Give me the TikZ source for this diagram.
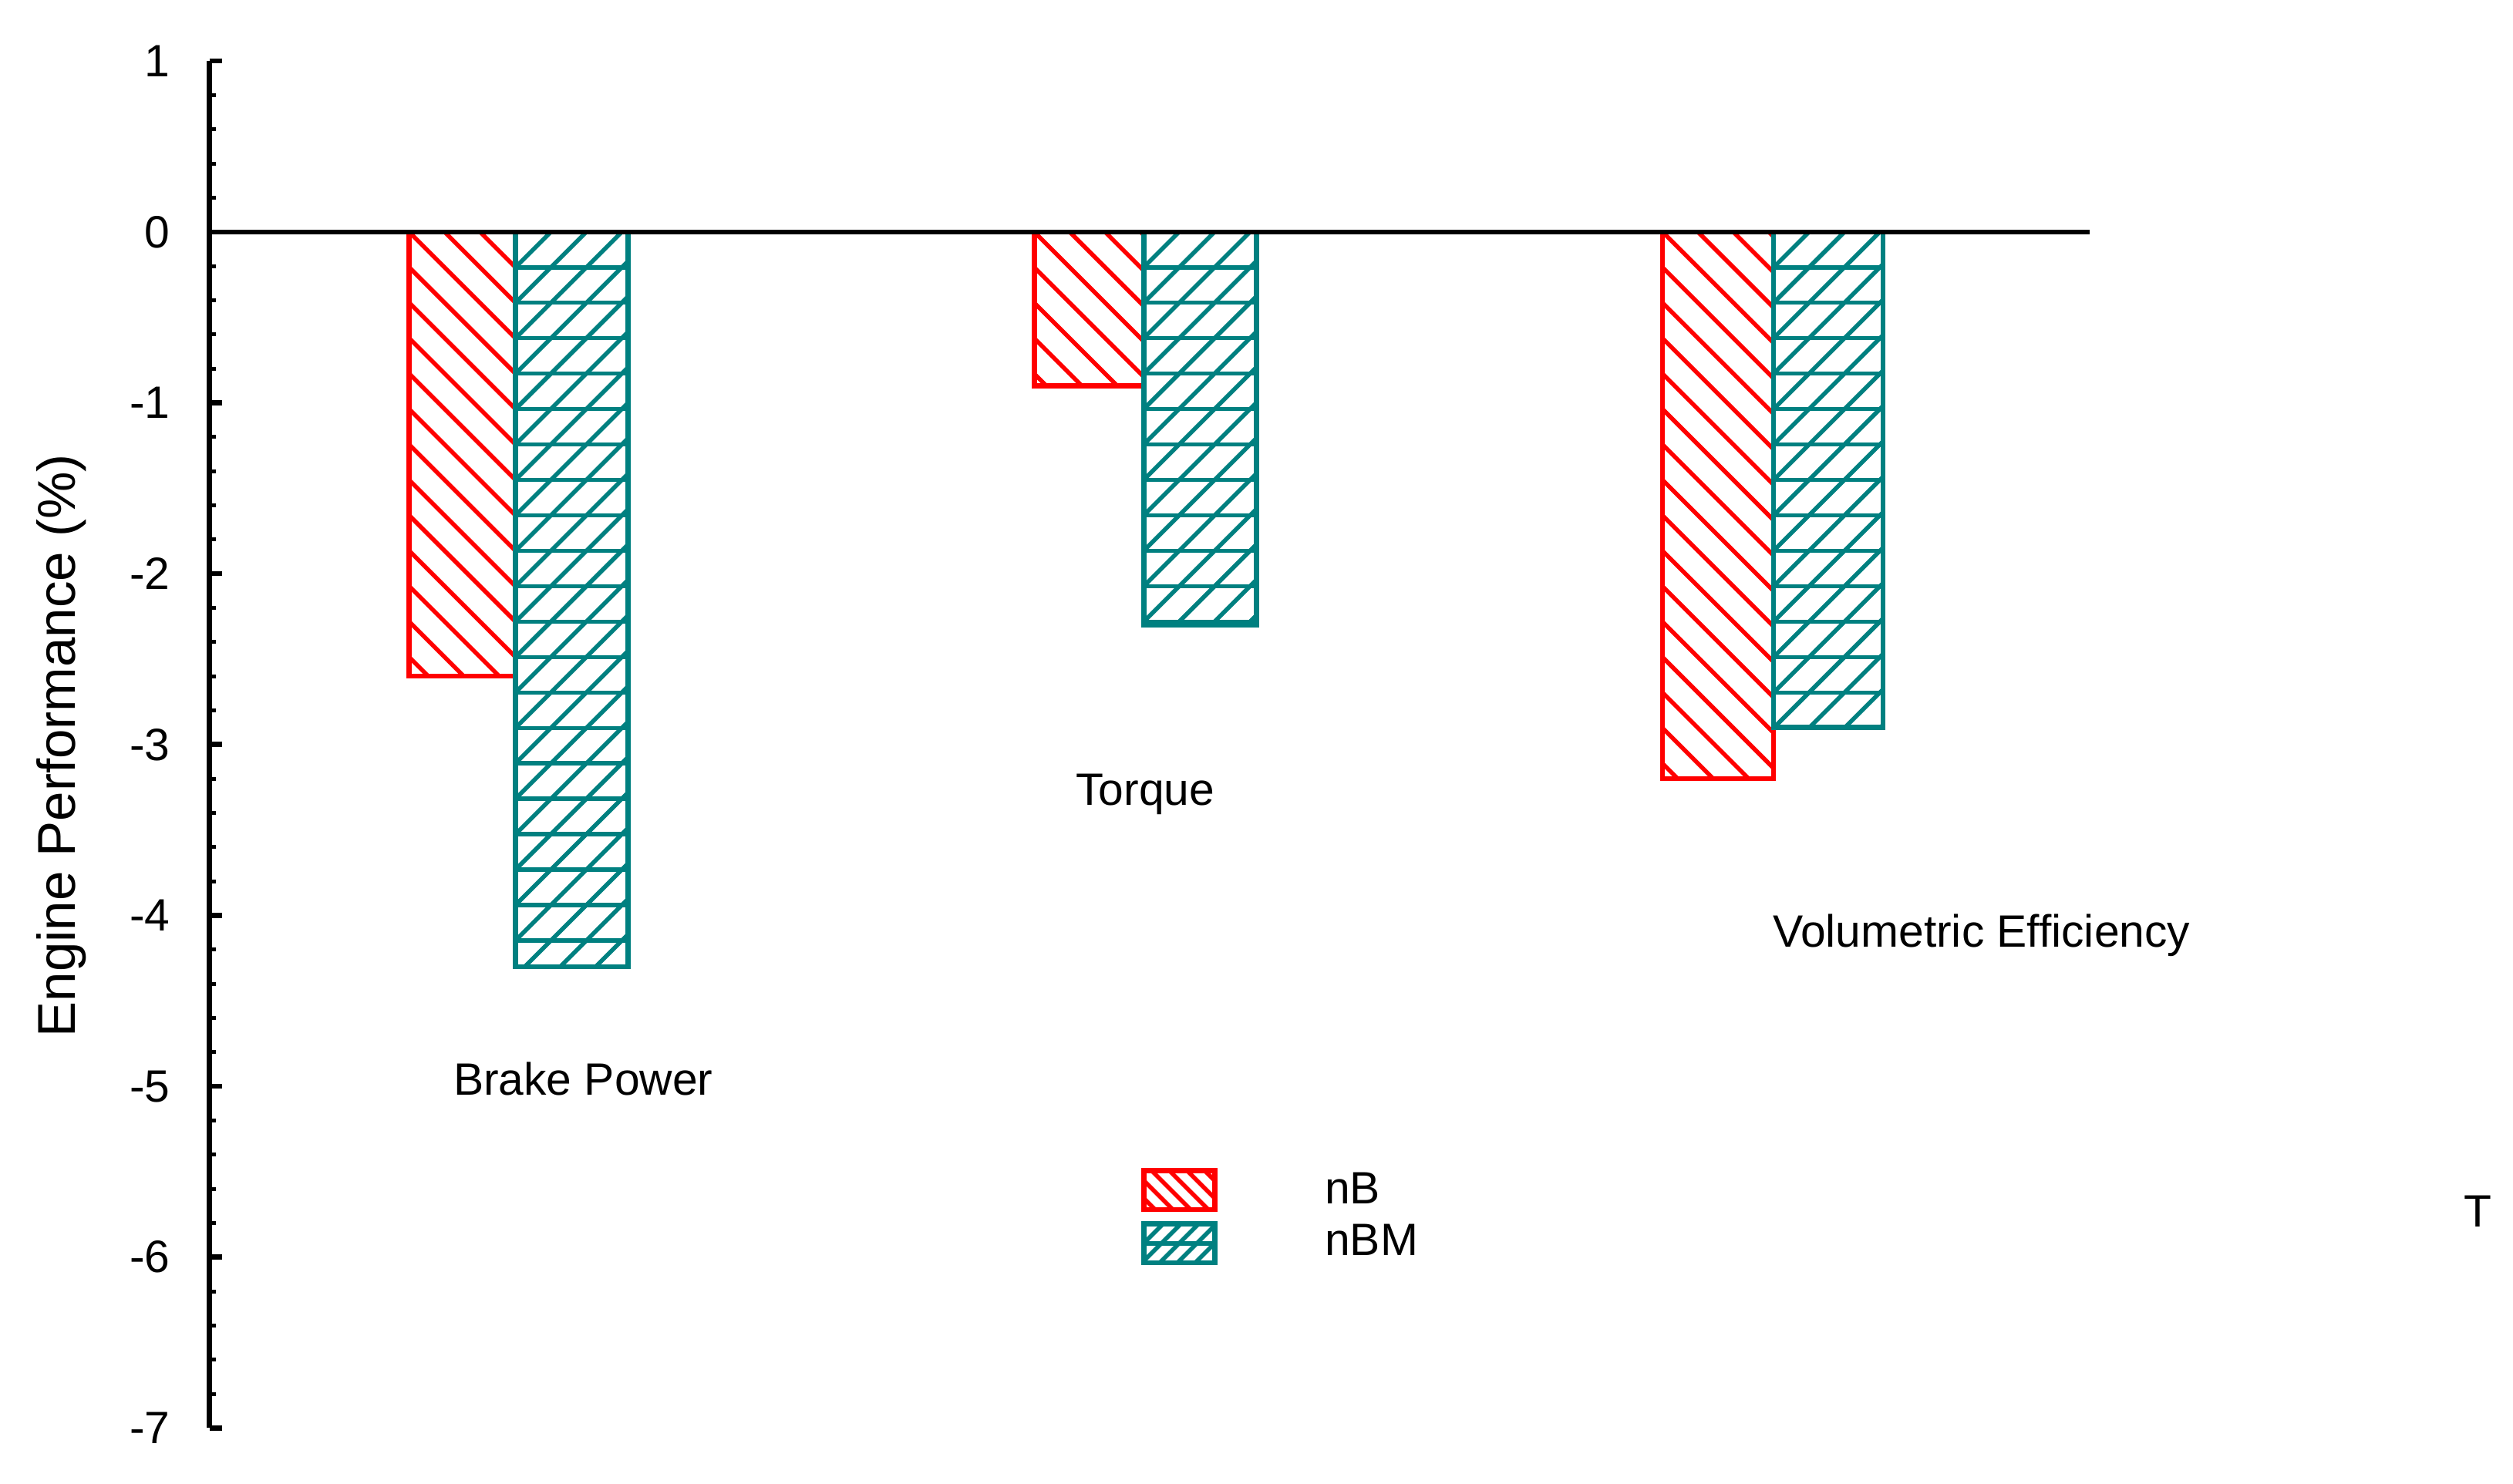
\documentclass[tikz,border=0pt]{standalone}
\usepackage{fontspec}
\setmainfont{Liberation Sans}
\usetikzlibrary{fit}
\definecolor{tealc}{RGB}{0,128,128}
\newcommand\myredbar[4]{% name x1 x2 value
 \begin{scope}
 \clip (#2,777) rectangle (#3,{777+106.1*#4});
 \foreach \k in {-25,...,5} \draw[red,line width=0.75pt] (#2-100,{777+22*\k+100}) -- (#2+300,{777+22*\k-300});
 \end{scope}
 \node[draw=red,line width=0.9pt,inner sep=0,fit={(#2,777) ({#3},{777+106.1*#4})}] (#1) {};}
\newcommand\mytealbar[4]{%
 \begin{scope}
 \clip (#2,777) rectangle (#3,{777+106.1*#4});
 \foreach \k in {1,...,25} \draw[tealc,line width=0.75pt] (#2,{777-22*\k}) -- (#3,{777-22*\k});
 \foreach \k in {-6,...,32} \draw[tealc,line width=0.75pt] (#2+22*\k-600,177) -- (#2+22*\k+300,1077);
 \end{scope}
 \node[draw=tealc,line width=0.9pt,inner sep=0,fit={(#2,777) ({#3},{777+106.1*#4})}] (#1) {};}
\begin{document}
\begin{tikzpicture}[x=0.01cm,y=0.01cm,font=\fontsize{8}{9.6}\selectfont]
\useasboundingbox (0,0) rectangle (1560,921);
\myredbar{bp1}{254}{320}{-2.6}
\mytealbar{bp2}{320}{390}{-4.3}
\myredbar{tq1}{642}{710}{-0.9}
\mytealbar{tq2}{710}{780}{-2.3}
\myredbar{ve1}{1032}{1101}{-3.2}
\mytealbar{ve2}{1101}{1169}{-2.9}
\coordinate (z0) at (130,777); \coordinate (z1) at (1297,777);
\draw[line width=0.9pt] (z0) -- (z1);
\coordinate (a0) at (130,{777+106.1}); \coordinate (a1) at (130,{777-7*106.1});
\draw[line width=1pt] (a0) -- (a1);
\foreach \v in {1,0,-1,-2,-3,-4,-5,-6,-7}{
 \draw[line width=0.9pt] (130,{777+106.1*\v}) -- (138,{777+106.1*\v});
 \node[anchor=east] (t\v) at (118,{777+106.1*\v}) {\v};}
\foreach \i in {0,...,39} \draw[line width=0.7pt] (130,{777-7*106.1+\i*0.2*106.1}) -- (134,{777-7*106.1+\i*0.2*106.1});
\node[rotate=90,font=\fontsize{9.4}{11}\selectfont] (yl) at (38,458) {Engine Performance (\%)};
\node (l1) at (362,251) {Brake Power};
\node (l2) at (711,428) {Torque};
\node (l3) at (1230,340) {Volumetric Efficiency};
\node (l4) at (1538,169) {T};
\begin{scope}
\clip (710,170) rectangle (754,194);
\foreach \k in {-5,...,5} \draw[red,line width=0.75pt] (700,{182+11*\k+60}) -- (770,{182+11*\k-10});
\end{scope}
\node[draw=red,line width=0.9pt,inner sep=0,fit={(710,170) (754,194)}] (lg1) {};
\begin{scope}
\clip (710,137) rectangle (754,161);
\draw[tealc,line width=0.75pt] (710,149) -- (754,149);
\foreach \k in {-5,...,5} \draw[tealc,line width=0.75pt] (710+11*\k,127) -- (710+11*\k+40,167);
\end{scope}
\node[draw=tealc,line width=0.9pt,inner sep=0,fit={(710,137) (754,161)}] (lg2) {};
\node[anchor=west] (n1) at (810,183) {nB};
\node[anchor=west] (n2) at (810,151) {nBM};
\end{tikzpicture}
\end{document}
